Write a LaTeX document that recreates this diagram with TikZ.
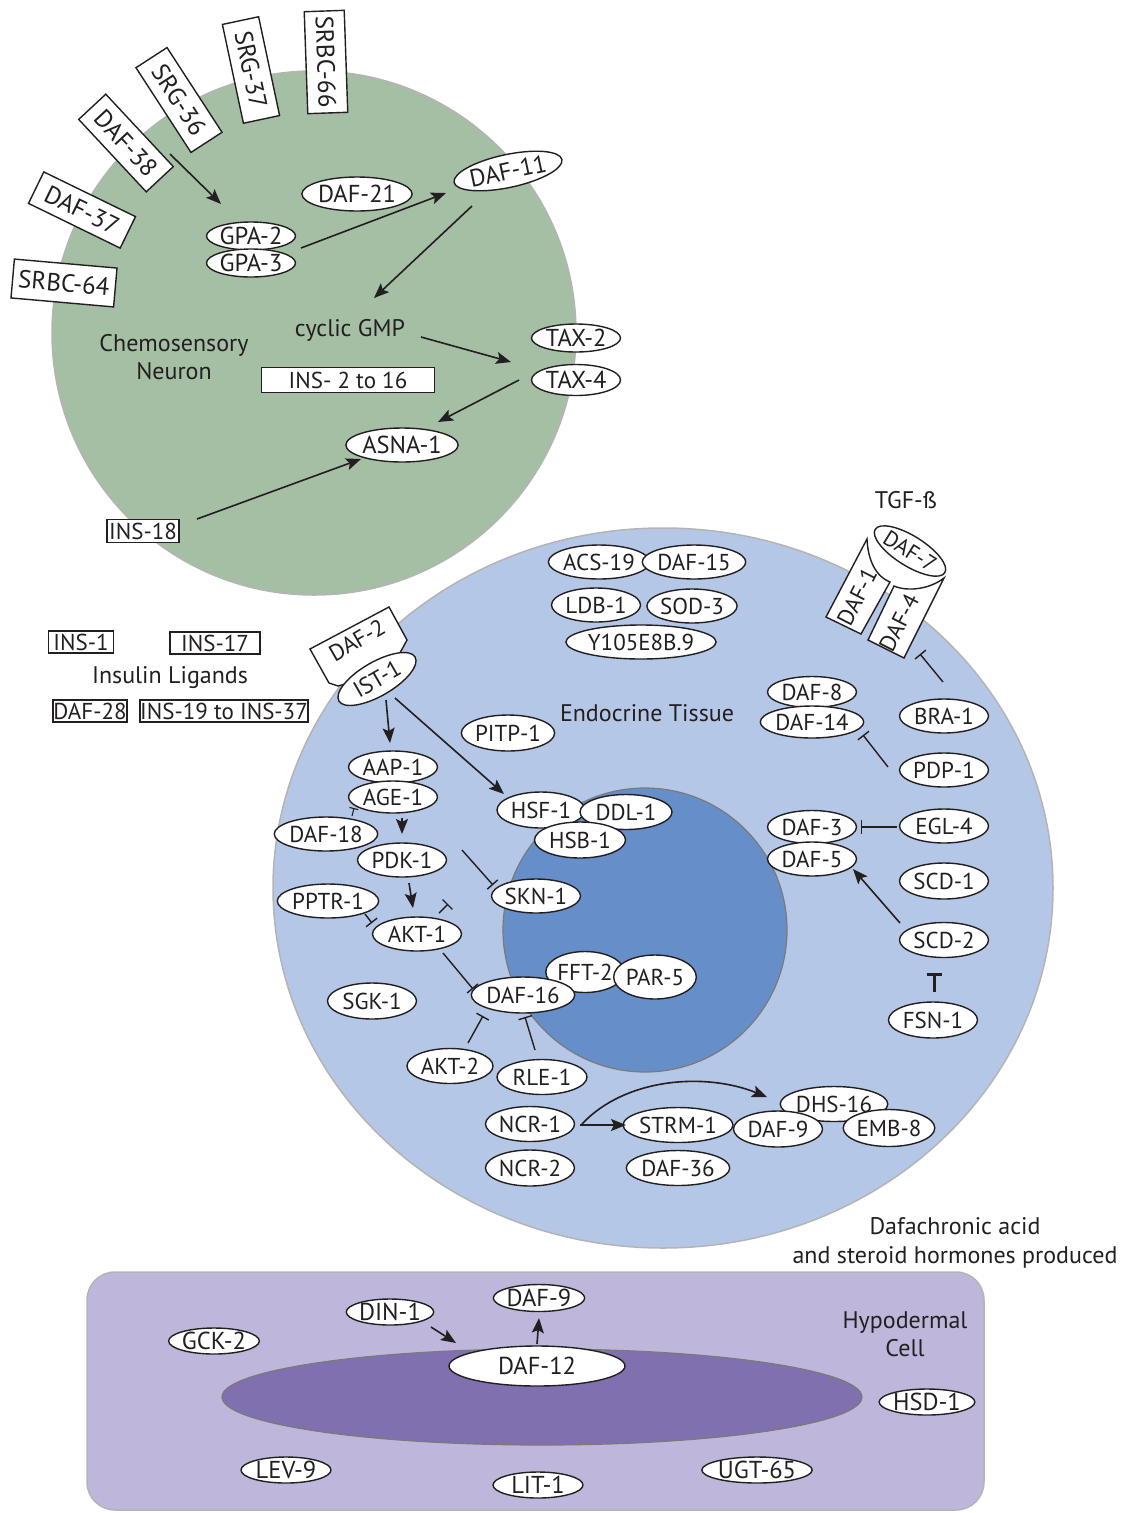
\documentclass[tikz,border=0pt]{standalone}
\usepackage{fontspec}
\setmainfont{PT Sans}
\usetikzlibrary{shapes.geometric,arrows.meta}
\definecolor{ink}{HTML}{231F20}
\definecolor{neurongreen}{HTML}{A5BFA5}
\definecolor{cytoblue}{HTML}{B5C7E6}
\definecolor{nucblue}{HTML}{668FC9}
\definecolor{hypolilac}{HTML}{BEB7DB}
\definecolor{nucpurple}{HTML}{8070B0}
\definecolor{rimgray}{HTML}{B4B4B4}
\definecolor{nucrim}{HTML}{7A7A7A}
\begin{document}
\begin{tikzpicture}[x=1pt,y=-1pt,
  every node/.style={text=ink},
  gene/.style={ellipse, draw=ink, fill=white, line width=1.4pt, inner sep=0pt,
    minimum width=89pt, minimum height=34pt, font=\fontsize{23}{25}\selectfont},
  bigtext/.style={font=\fontsize{24.5}{26}\selectfont},
  rcpt/.style={rectangle, draw=ink, fill=white, line width=1.4pt, inner sep=0pt,
    minimum width=101pt, minimum height=37pt, font=\fontsize{25}{27}\selectfont},
  lig/.style={rectangle, draw=ink, fill=white, line width=1.4pt, inner sep=0pt,
    minimum height=22pt, font=\fontsize{23}{25}\selectfont},
  lab/.style={font=\fontsize{24}{28.5}\selectfont, align=center, inner sep=0pt},
  act/.style={-{Stealth[length=15pt,width=12pt,inset=3pt]}, line width=1.6pt, draw=ink},
  inh/.style={-{Bar[width=14pt]}, line width=1.4pt, draw=ink},
]
\useasboundingbox (0,0) rectangle (1125,1513);

% ---------- compartments ----------
\filldraw[fill=neurongreen, draw=rimgray, line width=1.5pt] (314,333) circle [radius=262];
\filldraw[fill=cytoblue, draw=rimgray, line width=1.5pt] (663,888) ellipse [x radius=390, y radius=360];
\filldraw[fill=nucblue, draw=nucrim, line width=1.2pt] (645,930) circle [radius=142];
\filldraw[fill=hypolilac, draw=rimgray, line width=1.5pt, rounded corners=28pt] (87,1272) rectangle (984,1510);
\filldraw[fill=nucpurple, draw=nucrim, line width=1.2pt] (542,1397) ellipse [x radius=320, y radius=48];

% ---------- chemosensory neuron ----------
\node[rcpt, rotate=-88, minimum width=102pt, minimum height=40pt] (srbc66) at (326,62) {SRBC-66};
\node[rcpt, rotate=-78] (srg37) at (251,70) {SRG-37};
\node[rcpt, rotate=-57] (srg36) at (179,100) {SRG-36};
\node[rcpt, rotate=-47, minimum width=99pt] (daf38) at (126,143) {DAF-38};
\node[rcpt, rotate=-26, minimum width=102pt, minimum height=35pt] (daf37) at (82,210) {DAF-37};
\node[rcpt, rotate=-5, minimum width=103pt, minimum height=39pt] (srbc64) at (64,283) {SRBC-64};

\node[gene, bigtext, minimum width=90pt] (daf21) at (357,194) {DAF-21};
\node[gene, bigtext, rotate=12, minimum width=88pt, minimum height=33pt] (daf11) at (508,171) {DAF-11};
\node[gene, bigtext, minimum height=28pt] (gpa2) at (251,236) {GPA-2};
\node[gene, bigtext, minimum height=28pt] (gpa3) at (251,263) {GPA-3};
\node[lab] (cgmp) at (350,330) {cyclic GMP};
\node[lab] (chemo) at (174,357) {Chemosensory\\Neuron};
\node[lig, minimum width=173pt, minimum height=25pt] (ins216) at (348,380) {INS- 2 to 16};
\node[gene, bigtext, minimum height=28pt] (tax2) at (576,338) {TAX-2};
\node[gene, bigtext, minimum height=31pt] (tax4) at (576,380) {TAX-4};
\node[gene, bigtext, minimum width=90pt] (asna1) at (402,445) {ASNA-1};
\node[lig, minimum width=72pt, minimum height=23pt] (ins18) at (143,531) {INS-18};

\draw[act] ([shift={(44,11)}]daf38.center) -- ([shift={(-30,-32)}]gpa2.center);
\draw[act] ([shift={(50,-15)}]gpa3.center) -- ([shift={(-62,22)}]daf11.center);
\draw[act] ([shift={(-36,35)}]daf11.center) -- ([shift={(24,-32)}]cgmp.center);
\draw[act] ([shift={(71,7)}]cgmp.center) -- ([shift={(-65,24)}]tax2.center);
\draw[act] ([shift={(-57,0)}]tax4.center) -- ([shift={(36,-23)}]asna1.center);
\draw[act] ([shift={(54,-12)}]ins18.center) -- ([shift={(-41,14)}]asna1.center);

% ---------- insulin ligands ----------
\node[lig, minimum width=65pt] (ins1) at (81,642) {INS-1};
\node[lig, minimum width=90pt] (ins17) at (215,643) {INS-17};
\node[lab] (inslig) at (170,678) {Insulin Ligands};
\node[lig, minimum width=74pt] (daf28) at (90,711) {DAF-28};
\node[lig, minimum width=167pt] (ins1937) at (224,711) {INS-19 to INS-37};

% ---------- endocrine tissue ----------
\node[gene] (acs19) at (599,562) {ACS-19};
\node[gene] (daf15) at (694,562) {DAF-15};
\node[gene] (ldb1) at (596,605) {LDB-1};
\node[gene] (sod3) at (692,606) {SOD-3};
\node[gene, minimum width=131pt] (y105) at (641,642) {Y105E8B.9};

% insulin receptor DAF-2 with IST-1
\filldraw[fill=white, draw=ink, line width=1.4pt]
  (310,649) -- (389,607) -- (407,640) -- (395,662) -- (360,680) -- (338,686) -- (329,683) -- cycle;
\node[rotate=30, font=\fontsize{23}{25}\selectfont, inner sep=0pt] (daf2) at (357,640) {DAF-2};
\node[gene, rotate=30, minimum width=88pt, minimum height=34pt] (ist1) at (377,679) {IST-1};

\node[gene, minimum width=90pt, minimum height=36pt] (pitp1) at (508,733) {PITP-1};
\node[lab] (endo) at (647,713) {Endocrine Tissue};
\node[gene, minimum height=32pt] (aap1) at (393,767) {AAP-1};
\node[gene, minimum height=32pt] (age1) at (393,797) {AGE-1};
\node[gene] (daf18) at (326,834) {DAF-18};
\node[gene] (pdk1) at (402,860) {PDK-1};
\node[gene] (pptr1) at (328,901) {PPTR-1};
\node[gene] (akt1) at (417,934) {AKT-1};
\node[gene, minimum height=36pt] (sgk1) at (372,1001) {SGK-1};
\node[gene, minimum width=88pt, minimum height=36pt] (hsf1) at (541,810) {HSF-1};
\node[gene, minimum width=92pt, minimum height=35pt] (ddl1) at (626,812) {DDL-1};
\node[gene, minimum width=91pt, minimum height=36pt] (hsb1) at (580,840) {HSB-1};
\node[gene] (skn1) at (536,896) {SKN-1};
\node[gene, minimum width=64pt, minimum height=41pt] (fft2) at (585,972) {FFT-2};
\node[gene, minimum width=74pt, minimum height=44pt] (par5) at (655,977) {PAR-5};
\node[gene, minimum height=36pt] (daf16) at (523,995) {DAF-16};
\node[gene, minimum width=86pt, minimum height=35pt] (akt2) at (450,1066) {AKT-2};
\node[gene, minimum width=90pt, minimum height=35pt] (rle1) at (542,1077) {RLE-1};
\node[gene, minimum height=35pt] (ncr1) at (530,1124) {NCR-1};
\node[gene, minimum height=36pt] (ncr2) at (530,1168) {NCR-2};
\node[gene, minimum width=87pt, minimum height=35pt] (strm1) at (678,1125) {STRM-1};
\node[gene, minimum width=87pt, minimum height=35pt] (daf36) at (678,1168) {DAF-36};
\node[gene, minimum height=35pt] (dhs16) at (834,1104) {DHS-16};
\node[gene, minimum height=36pt] (daf9) at (778,1129) {DAF-9};
\node[gene, minimum width=91pt, minimum height=37pt] (emb8) at (889,1128) {EMB-8};

% TGF-beta receptors
\node[lab] (tgfb) at (906,500) {TGF-ß};
\filldraw[fill=white, draw=ink, line width=1.4pt]
  (867,539) .. controls (868,562) and (877,577) .. (890,582) -- (861,634) -- (826,617) -- cycle;
\filldraw[fill=white, draw=ink, line width=1.4pt]
  (894,586) .. controls (908,592) and (930,589) .. (944,578) -- (904,658) -- (868,640) -- cycle;
\node[rotate=63, font=\fontsize{23}{25}\selectfont, inner sep=0pt] (daf1) at (857,597) {DAF-1};
\node[rotate=63, font=\fontsize{23}{25}\selectfont, inner sep=0pt] (daf4) at (899,623) {DAF-4};
\node[gene, rotate=-32, minimum width=70pt, minimum height=30pt, font=\fontsize{22}{24}\selectfont] (daf7) at (910,551) {DAF-7};

\node[gene, minimum height=31pt] (daf8) at (812,692) {DAF-8};
\node[gene, minimum height=32pt] (daf14) at (812,722) {DAF-14};
\node[gene] (bra1) at (944,716) {BRA-1};
\node[gene] (pdp1) at (944,770) {PDP-1};
\node[gene] (egl4) at (944,826) {EGL-4};
\node[gene, minimum height=33pt] (daf3) at (812,827) {DAF-3};
\node[gene, minimum height=34pt] (daf5) at (812,859) {DAF-5};
\node[gene, minimum height=36pt] (scd1) at (944,881) {SCD-1};
\node[gene, minimum height=35pt] (scd2) at (944,940) {SCD-2};
\node[gene, minimum height=36pt] (fsn1) at (933,1020) {FSN-1};

% insulin pathway
\draw[act] ([shift={(9,21)}]ist1.center) -- ([shift={(-3,-24)}]aap1.center);
\draw[act] ([shift={(18,19)}]ist1.center) -- ([shift={(-37,-16)}]hsf1.center);
\draw[-{Bar[width=9pt]}, line width=1.1pt, draw=ink] ([shift={(26,-18)}]daf18.center) -- ([shift={(-39,11)}]age1.center);
\draw[act] ([shift={(9,21)}]age1.center) -- ([shift={(0,-26)}]pdk1.center);
\draw[act] ([shift={(7,23)}]pdk1.center) -- ([shift={(-4,-26)}]akt1.center);
\draw[inh] ([shift={(60,-10)}]pdk1.center) -- ([shift={(-43,-11)}]skn1.center);
\draw[inh] ([shift={(22,-21)}]akt1.center) -- ([shift={(31,-30)}]akt1.center);
\draw[inh] ([shift={(37,13)}]pptr1.center) -- ([shift={(-45,-11)}]akt1.center);
\draw[inh] ([shift={(26,19)}]akt1.center) -- ([shift={(-50,-6)}]daf16.center);
\draw[inh] ([shift={(18,-23)}]akt2.center) -- ([shift={(-40,21)}]daf16.center);
\draw[inh] ([shift={(-7,-27)}]rle1.center) -- ([shift={(2,22)}]daf16.center);

% steroid synthesis
\draw[act] ([shift={(50,1)}]ncr1.center) -- ([shift={(-52,0)}]strm1.center);
\draw[act] ([shift={(52,0)}]ncr1.center) .. controls (625,1078) and (705,1072) .. ([shift={(-67,-7)}]dhs16.center);

% TGF-beta pathway
\draw[inh] ([shift={(-1,-34)}]bra1.center) -- ([shift={(21,31)}]daf4.center);
\draw[inh] ([shift={(-56,-3)}]pdp1.center) -- ([shift={(51,13)}]daf14.center);
\draw[inh] ([shift={(-47,1)}]egl4.center) -- ([shift={(49,0)}]daf3.center);
\draw[act] ([shift={(-44,-17)}]scd2.center) -- ([shift={(41,10)}]daf5.center);
\draw[-{Bar[width=15pt]}, line width=3pt, draw=ink] ([shift={(1,-28)}]fsn1.center) -- ([shift={(-10,33)}]scd2.center);

\node[lab] (dafa) at (955,1243) {Dafachronic acid\\and steroid hormones produced};

% ---------- hypodermal cell ----------
\node[lab] (hypo) at (905,1334) {Hypodermal\\Cell};
\node[gene, bigtext, minimum width=90pt, minimum height=26pt] (gck2) at (214,1341) {GCK-2};
\node[gene, bigtext, minimum width=84pt, minimum height=26pt] (din1) at (390,1312) {DIN-1};
\node[gene, bigtext, minimum width=90pt, minimum height=27pt] (daf9h) at (539,1298) {DAF-9};
\node[gene, bigtext, minimum width=176pt, minimum height=40pt] (daf12) at (537,1366) {DAF-12};
\node[gene, bigtext, minimum width=88pt, minimum height=26pt] (hsd1) at (927,1402) {HSD-1};
\node[gene, bigtext, minimum width=90pt, minimum height=26pt] (lev9) at (286,1470) {LEV-9};
\node[gene, bigtext, minimum width=90pt, minimum height=26pt] (lit1) at (538,1485) {LIT-1};
\node[gene, bigtext, minimum width=91pt, minimum height=26pt] (ugt65) at (757,1470) {UGT-65};
\draw[act] ([shift={(41,15)}]din1.center) -- ([shift={(-81,-23)}]daf12.center);
\draw[act] ([shift={(0,-22)}]daf12.center) -- ([shift={(0,20)}]daf9h.center);
\end{tikzpicture}
\end{document}
